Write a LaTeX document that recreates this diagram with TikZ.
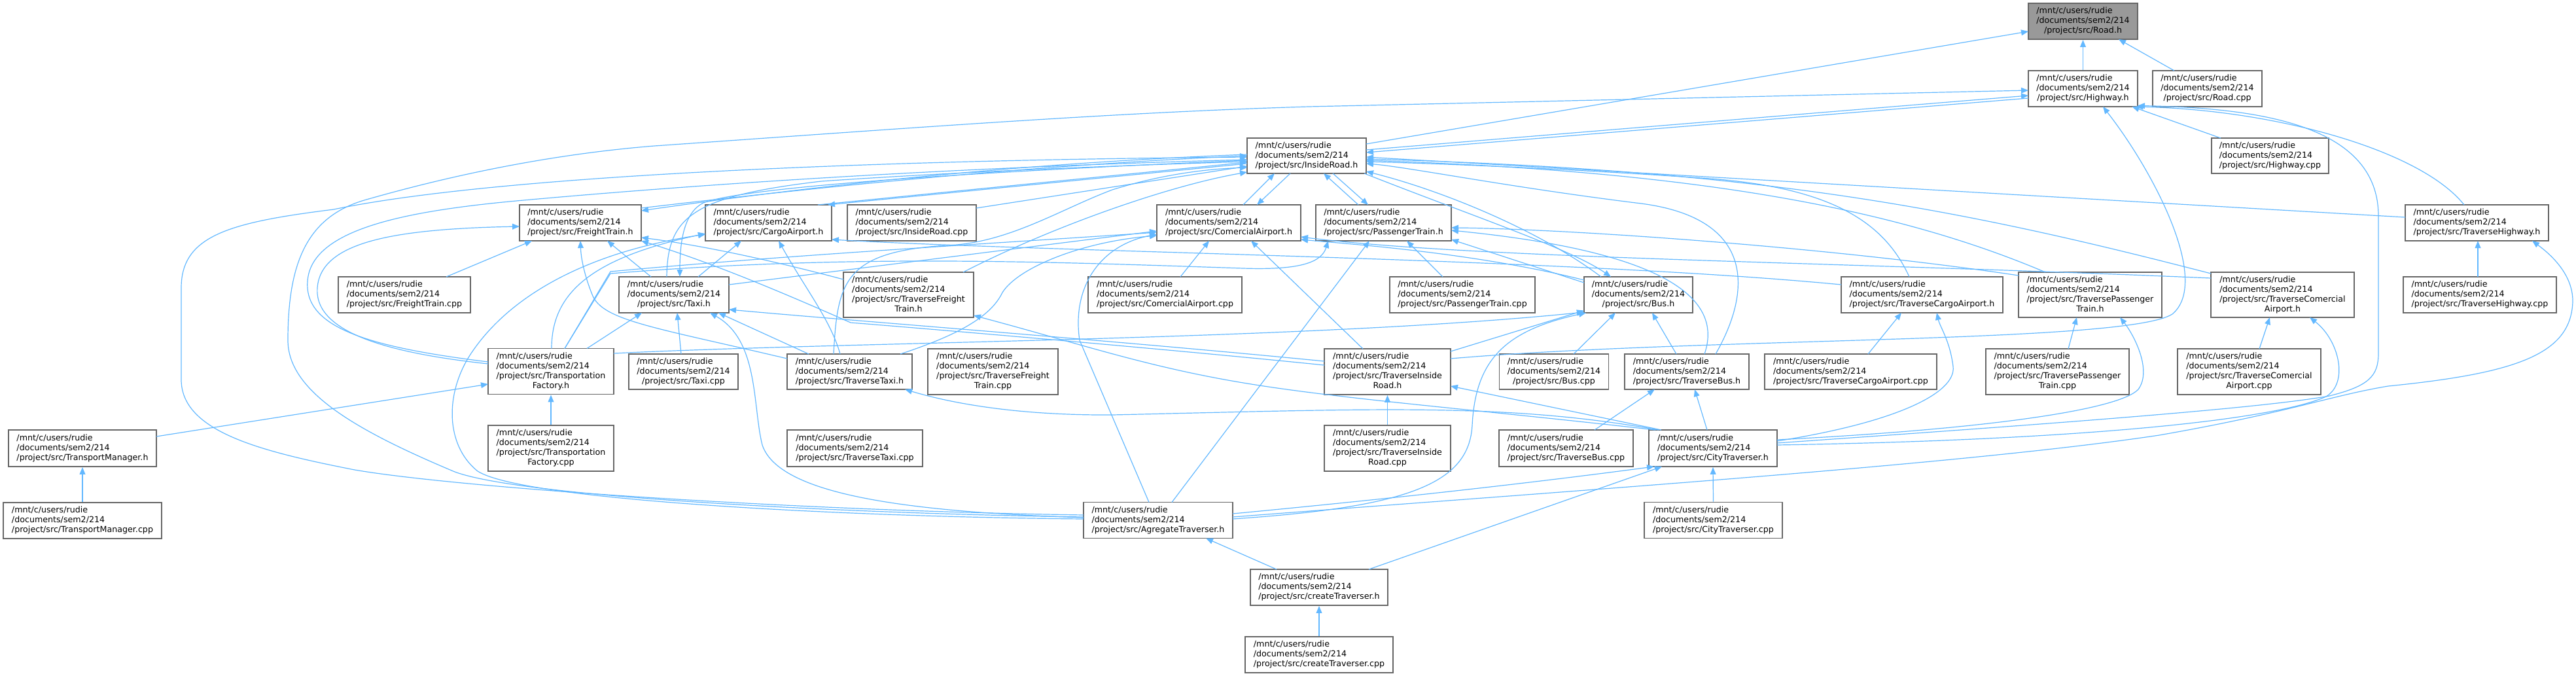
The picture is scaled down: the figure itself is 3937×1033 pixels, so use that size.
\documentclass[tikz,border=0pt]{standalone}
\usepackage{fontspec}
\setmainfont{DejaVu Sans}
\usetikzlibrary{arrows.meta,calc}
\definecolor{edgec}{HTML}{63B8FF}
\definecolor{boxc}{HTML}{666666}
\definecolor{rootc}{HTML}{999999}
\newcommand{\dxthree}[1]{\begin{tabular}{@{}l@{}}/mnt/c/users/rudie\\/documents/sem2/214\\\multicolumn{1}{@{}c@{}}{#1}\end{tabular}}
\newcommand{\dxfour}[2]{\begin{tabular}{@{}l@{}}/mnt/c/users/rudie\\/documents/sem2/214\\#1\\\multicolumn{1}{@{}c@{}}{#2}\end{tabular}}
\tikzset{
  fbox/.style={draw=boxc, line width=0.9pt, fill=white, rectangle, inner sep=0pt, font=\fontsize{6.33pt}{7.5pt}\selectfont},
  dep/.style={draw=edgec, line width=0.6pt, -{Triangle[length=5.5pt,width=4.4pt]}},
}
\begin{document}
\begin{tikzpicture}[x=0.5pt,y=-0.5pt]
\useasboundingbox (0,0) rectangle (3937,1033);
% ---------- nodes ----------
\node[fbox, fill=rootc, minimum width=83.5pt, minimum height=27.5pt] (road) at (3183.5,32.5) {\dxthree{/project/src/Road.h}};
\node[fbox, minimum width=83.5pt, minimum height=27.5pt] (highway) at (3183.5,135.5) {\dxthree{/project/src/Highway.h}};
\node[fbox, minimum width=83.5pt, minimum height=27.5pt] (roadcpp) at (3373.5,135.5) {\dxthree{/project/src/Road.cpp}};
\node[fbox, minimum width=89.5pt, minimum height=27pt] (highwaycpp) at (3469.5,238) {\dxthree{/project/src/Highway.cpp}};
\node[fbox, minimum width=91pt, minimum height=27pt] (insideroad) at (1997,238) {\dxthree{/project/src/InsideRoad.h}};
\node[fbox, minimum width=93pt, minimum height=27.5pt] (freight) at (887,340.5) {\dxthree{/project/src/FreightTrain.h}};
\node[fbox, minimum width=96.5pt, minimum height=27.5pt] (cargo) at (1174.5,340.5) {\dxthree{/project/src/CargoAirport.h}};
\node[fbox, minimum width=98.5pt, minimum height=27.5pt] (insideroadcpp) at (1393.5,340.5) {\dxthree{/project/src/InsideRoad.cpp}};
\node[fbox, minimum width=110pt, minimum height=27.5pt] (comercial) at (1878,340.5) {\dxthree{/project/src/ComercialAirport.h}};
\node[fbox, minimum width=103.5pt, minimum height=27.5pt] (passenger) at (2114.5,340.5) {\dxthree{/project/src/PassengerTrain.h}};
\node[fbox, minimum width=109.5pt, minimum height=27.5pt] (travhighway) at (3785.5,340.5) {\dxthree{/project/src/TraverseHighway.h}};
\node[fbox, minimum width=101pt, minimum height=27.5pt] (freightcpp) at (618,450.5) {\dxthree{/project/src/FreightTrain.cpp}};
\node[fbox, minimum width=84pt, minimum height=27.5pt] (taxi) at (1030,450.5) {\dxthree{/project/src/Taxi.h}};
\node[fbox, minimum width=99.5pt, minimum height=34.5pt] (travfreight) at (1388.5,450.5) {\dxfour{/project/src/TraverseFreight}{Train.h}};
\node[fbox, minimum width=117.5pt, minimum height=27.5pt] (comercialcpp) at (1780.5,450.5) {\dxthree{/project/src/ComercialAirport.cpp}};
\node[fbox, minimum width=111pt, minimum height=27.5pt] (passengercpp) at (2235,450.5) {\dxthree{/project/src/PassengerTrain.cpp}};
\node[fbox, minimum width=83pt, minimum height=27.5pt] (bus) at (2504,450.5) {\dxthree{/project/src/Bus.h}};
\node[fbox, minimum width=123.5pt, minimum height=27.5pt] (travcargo) at (2937.5,450.5) {\dxthree{/project/src/TraverseCargoAirport.h}};
\node[fbox, minimum width=109.5pt, minimum height=34.5pt] (travpassenger) at (3194.5,450.5) {\dxfour{/project/src/TraversePassenger}{Train.h}};
\node[fbox, minimum width=109.5pt, minimum height=34.5pt] (travcomercial) at (3488.5,450.5) {\dxfour{/project/src/TraverseComercial}{Airport.h}};
\node[fbox, minimum width=117pt, minimum height=27.5pt] (travhighwaycpp) at (3790,450.5) {\dxthree{/project/src/TraverseHighway.cpp}};
\node[fbox, minimum width=96pt, minimum height=35pt] (transfactory) at (842,567.5) {\dxfour{/project/src/Transportation}{Factory.h}};
\node[fbox, minimum width=83.5pt, minimum height=27pt] (taxicpp) at (1044.5,568) {\dxthree{/project/src/Taxi.cpp}};
\node[fbox, minimum width=95.5pt, minimum height=27pt] (travtaxi) at (1298.5,568) {\dxthree{/project/src/TraverseTaxi.h}};
\node[fbox, minimum width=99.5pt, minimum height=35pt] (travfreightcpp) at (1517.5,568) {\dxfour{/project/src/TraverseFreight}{Train.cpp}};
\node[fbox, minimum width=96.5pt, minimum height=35pt] (travinside) at (2120.5,568) {\dxfour{/project/src/TraverseInside}{Road.h}};
\node[fbox, minimum width=83.5pt, minimum height=27pt] (buscpp) at (2375,568) {\dxthree{/project/src/Bus.cpp}};
\node[fbox, minimum width=95pt, minimum height=27pt] (travbus) at (2578,568) {\dxthree{/project/src/TraverseBus.h}};
\node[fbox, minimum width=131.5pt, minimum height=27pt] (travcargocpp) at (2828.5,568) {\dxthree{/project/src/TraverseCargoAirport.cpp}};
\node[fbox, minimum width=109.5pt, minimum height=35pt] (travpassengercpp) at (3144.5,568) {\dxfour{/project/src/TraversePassenger}{Train.cpp}};
\node[fbox, minimum width=109.5pt, minimum height=35pt] (travcomercialcpp) at (3437.5,568) {\dxfour{/project/src/TraverseComercial}{Airport.cpp}};
\node[fbox, minimum width=113pt, minimum height=28pt] (transmanager) at (126,685) {\dxthree{/project/src/TransportManager.h}};
\node[fbox, minimum width=96pt, minimum height=35pt] (transfactorycpp) at (842,685) {\dxfour{/project/src/Transportation}{Factory.cpp}};
\node[fbox, minimum width=103.5pt, minimum height=28pt] (travtaxicpp) at (1306.5,685) {\dxthree{/project/src/TraverseTaxi.cpp}};
\node[fbox, minimum width=96.5pt, minimum height=35pt] (travinsidecpp) at (2120.5,685) {\dxfour{/project/src/TraverseInside}{Road.cpp}};
\node[fbox, minimum width=102.5pt, minimum height=28pt] (travbuscpp) at (2393.5,685) {\dxthree{/project/src/TraverseBus.cpp}};
\node[fbox, minimum width=98pt, minimum height=28pt] (citytrav) at (2618,685) {\dxthree{/project/src/CityTraverser.h}};
\node[fbox, minimum width=121pt, minimum height=27.5pt] (transmanagercpp) at (126,795.5) {\dxthree{/project/src/TransportManager.cpp}};
\node[fbox, minimum width=114pt, minimum height=27.5pt] (agregate) at (1770,795) {\dxthree{/project/src/AgregateTraverser.h}};
\node[fbox, minimum width=105.5pt, minimum height=27.5pt] (citytravcpp) at (2618.5,795) {\dxthree{/project/src/CityTraverser.cpp}};
\node[fbox, minimum width=105pt, minimum height=27.5pt] (createtrav) at (2016,897.5) {\dxthree{/project/src/createTraverser.h}};
\node[fbox, minimum width=113pt, minimum height=27.5pt] (createtravcpp) at (2016,1000.5) {\dxthree{/project/src/createTraverser.cpp}};
% ---------- edges ----------
\draw[dep] (highway.north) -- (road.south);
\draw[dep] ($(roadcpp)+(-50.5,-27.5)$) -- ($(road)+(54.5,27.5)$);
\draw[dep] ($(insideroad)+(91,-18)$) -- ($(road)+(-83.5,15.5)$);
\draw[dep] ($(highwaycpp)+(-75.5,-27)$) -- ($(highway)+(75,27.5)$);
\draw[dep] ($(insideroad)+(91,-9)$) -- ($(highway)+(-83.5,10.5)$);
\draw[dep] ($(highway)+(-83.5,14.5)$) -- ($(insideroad)+(91,-5)$);
\draw[dep] ($(travhighway)+(-19.5,-27.5)$) .. controls (3700,230) and (3480,168) .. ($(highway)+(81,27.5)$);
\draw[dep] ($(citytrav)+(98,-8)$) .. controls (3100,650) and (3450,625) .. (3560,605) .. controls (3620,590) and (3635,575) .. (3635,540) -- (3635,330) .. controls (3635,190) and (3450,165) .. ($(highway)+(83.5,26)$);
\draw[dep] ($(travinside)+(96.5,-20)$) .. controls (2600,515) and (3250,525) .. (3320,480) .. controls (3380,430) and (3290,260) .. ($(highway)+(30.5,27.5)$);
\draw[dep] ($(agregate)+(-114,-5)$) .. controls (1300,785) and (800,760) .. (695,721) .. controls (550,660) and (440,600) .. (440,520) .. controls (440,400) and (470,330) .. (560,305) .. controls (700,265) and (850,235) .. (1000,223) .. controls (1400,195) and (1700,172) .. (2000,163) -- ($(highway)+(-83.5,2.5)$);
\draw[dep] ($(agregate)+(-114,-8)$) .. controls (1200,780) and (700,745) .. (542,718) .. controls (400,690) and (277,660) .. (277,580) -- (277,440) .. controls (277,360) and (350,340) .. (510,320) .. controls (750,270) and (1300,245) .. ($(insideroad)+(-91,2)$);
\draw[dep] ($(agregate)+(-114,-2)$) .. controls (1300,790) and (800,765) .. (730,720) .. controls (680,680) and (680,600) .. (720,540) .. controls (780,450) and (900,385) .. ($(cargo)+(-96.5,17.5)$);
\draw[dep] ($(travtaxi)+(-95.5,-20)$) .. controls (1000,500) and (920,490) .. (905,450) .. controls (893,420) and (888,395) .. ($(freight)+(0,27.5)$);
\draw[dep] ($(freightcpp)+(64,-27.5)$) -- ($(freight)+(-74,27.5)$);
\draw[dep] ($(taxi)+(-35,-27.5)$) -- ($(freight)+(41,27.5)$);
\draw[dep] ($(travfreight)+(-99.5,-23.5)$) .. controls (1150,390) and (1050,372) .. ($(freight)+(93,22.5)$);
\draw[dep] ($(travinside)+(-96.5,-10)$) .. controls (1800,535) and (1450,505) .. (1300,493) .. controls (1230,462) and (1100,405) .. ($(freight)+(93,27.5)$);
\draw[dep] ($(transfactory)+(-96,-11.5)$) .. controls (600,540) and (480,510) .. (485,440) .. controls (490,370) and (600,350) .. ($(freight)+(-93,5.5)$);
\draw[dep] ($(transfactory)+(-96,-14.5)$) .. controls (560,530) and (465,500) .. (470,430) .. controls (475,350) and (620,322) .. (800,306) .. controls (1200,270) and (1600,252) .. ($(insideroad)+(-91,6)$);
\draw[dep] ($(transfactory)+(1,-35)$) .. controls (843,450) and (900,395) .. ($(cargo)+(-96.5,16.5)$);
\draw[dep] ($(transfactory)+(55,-35)$) -- ($(taxi)+(-49,27.5)$);
\draw[dep] ($(transfactory)+(21,-35)$) -- (933,415) .. controls (1200,390) and (1550,370) .. ($(comercial)+(-110,14.5)$);
\draw[dep] ($(transfactory)+(21,-35)$) -- (933,418) .. controls (1300,388) and (1600,400) .. (1900,410) .. controls (1990,413) and (2020,400) .. ($(passenger)+(-84.5,27.5)$);
\draw[dep] ($(transfactory)+(96,-27.5)$) .. controls (1300,522) and (2000,520) .. ($(bus)+(-83,26.5)$);
\draw[dep] ($(transmanager)+(113,-18)$) -- ($(transfactory)+(-96,19.5)$);
\draw[dep] (transmanagercpp.north) -- (transmanager.south);
\draw[dep] (transfactorycpp.north) -- (transfactory.south);
\draw[dep] ($(taxicpp)+(-3.5,-27)$) -- ($(taxi)+(5,27.5)$);
\draw[dep] ($(travtaxi)+(-62.5,-27)$) -- ($(taxi)+(68,27.5)$);
\draw[dep] ($(agregate)+(-114,-4)$) .. controls (1380,782) and (1190,755) .. (1165,680) .. controls (1150,620) and (1160,520) .. ($(taxi)+(55,27.5)$);
\draw[dep] ($(taxi)+(-11,-27.5)$) .. controls (1020,330) and (1060,300) .. (1255,277) .. controls (1500,260) and (1800,250) .. ($(insideroad)+(-91,9)$);
\draw[dep] ($(insideroad)+(-91,7)$) .. controls (1500,262) and (1140,285) .. (1075,310) .. controls (1045,325) and (1039,370) .. ($(taxi)+(9,-27.5)$);
\draw[dep] ($(taxi)+(37,-27.5)$) -- ($(cargo)+(-41.5,27.5)$);
\draw[dep] ($(taxi)+(84,-15.5)$) -- ($(comercial)+(-110,12.5)$);
\draw[dep] ($(travinside)+(-96.5,-16)$) .. controls (1700,520) and (1300,490) .. ($(taxi)+(84,22.5)$);
\draw[dep] ($(cargo)+(75.5,-27.5)$) -- ($(insideroad)+(-91,10)$);
\draw[dep] ($(insideroad)+(-91,12)$) -- ($(cargo)+(90.5,-27.5)$);
\draw[dep] ($(insideroadcpp)+(98.5,-22.5)$) -- ($(insideroad)+(-91,16)$);
\draw[dep] ($(freight)+(93,-22.5)$) .. controls (1300,280) and (1600,252) .. ($(insideroad)+(-91,0)$);
\draw[dep] ($(insideroad)+(-91,-2)$) .. controls (1600,248) and (1300,276) .. ($(freight)+(93,-18.5)$);
\draw[dep] ($(comercial)+(22,-27.5)$) -- ($(insideroad)+(-49,27)$);
\draw[dep] ($(insideroad)+(-25,27)$) -- ($(comercial)+(43,-27.5)$);
\draw[dep] ($(passenger)+(-38.5,-27.5)$) -- ($(insideroad)+(26,27)$);
\draw[dep] ($(insideroad)+(40,27)$) -- ($(passenger)+(-23.5,-27.5)$);
\draw[dep] ($(bus)+(-57,-27.5)$) .. controls (2350,350) and (2200,290) .. ($(insideroad)+(91,24)$);
\draw[dep] ($(insideroad)+(88,27)$) .. controls (2250,330) and (2400,380) .. ($(bus)+(-42,-27.5)$);
\draw[dep] ($(travfreight)+(83.5,-34.5)$) .. controls (1600,350) and (1780,285) .. ($(insideroad)+(-91,25)$);
\draw[dep] ($(travtaxi)+(-24.5,-27)$) .. controls (1280,430) and (1290,385) .. (1446,375) .. controls (1540,372) and (1620,320) .. (1700,290) .. controls (1780,265) and (1850,258) .. ($(insideroad)+(-91,18)$);
\draw[dep] ($(travcargo)+(-19.5,-27.5)$) .. controls (2880,340) and (2800,285) .. (2600,272) .. controls (2400,258) and (2200,250) .. ($(insideroad)+(91,9)$);
\draw[dep] ($(travhighway)+(-109.5,-8.5)$) -- ($(insideroad)+(91,2)$);
\draw[dep] ($(travcomercial)+(-109.5,-32.5)$) .. controls (3000,320) and (2700,260) .. ($(insideroad)+(91,5)$);
\draw[dep] ($(travpassenger)+(-68.5,-34.5)$) .. controls (2900,320) and (2600,262) .. ($(insideroad)+(91,7)$);
\draw[dep] ($(travbus)+(44,-27)$) .. controls (2680,440) and (2680,330) .. (2500,310) .. controls (2300,285) and (2150,255) .. ($(insideroad)+(91,12)$);
\draw[dep] ($(travbus)+(27,-27)$) .. controls (2640,440) and (2500,380) .. ($(passenger)+(103.5,11.5)$);
\draw[dep] ($(bus)+(-83,-18.5)$) -- ($(passenger)+(103.5,25.5)$);
\draw[dep] ($(bus)+(-83,-22.5)$) .. controls (2250,385) and (2050,372) .. ($(comercial)+(110,25.5)$);
\draw[dep] ($(passengercpp)+(-30,-27.5)$) -- ($(passenger)+(35.5,27.5)$);
\draw[dep] ($(comercialcpp)+(23.5,-27.5)$) -- ($(comercial)+(-30,27.5)$);
\draw[dep] ($(travpassenger)+(-109.5,-29.5)$) .. controls (2800,378) and (2400,350) .. ($(passenger)+(103.5,7.5)$);
\draw[dep] ($(travcomercial)+(-109.5,-25.5)$) .. controls (2800,400) and (2250,395) .. ($(comercial)+(110,21.5)$);
\draw[dep] ($(travcargo)+(-123.5,-15.5)$) .. controls (2400,395) and (1600,385) .. ($(cargo)+(96.5,25.5)$);
\draw[dep] ($(travcargocpp)+(26.5,-27)$) -- ($(travcargo)+(-31.5,27.5)$);
\draw[dep] ($(citytrav)+(98,-11)$) .. controls (2900,645) and (2990,600) .. (2985,560) .. controls (2980,520) and (2965,500) .. ($(travcargo)+(22.5,27.5)$);
\draw[dep] ($(citytrav)+(98,-13)$) .. controls (3050,655) and (3240,625) .. (3268,595) .. controls (3290,565) and (3260,510) .. ($(travpassenger)+(45.5,34.5)$);
\draw[dep] ($(citytrav)+(98,-5)$) .. controls (3200,672) and (3480,640) .. (3555,606) .. controls (3590,585) and (3575,520) .. ($(travcomercial)+(41.5,34.5)$);
\draw[dep] ($(agregate)+(114,-5)$) .. controls (2400,750) and (3000,710) .. (3300,665) .. controls (3500,630) and (3560,605) .. (3650,590) .. controls (3850,570) and (3930,540) .. (3932,460) .. controls (3932,420) and (3900,390) .. ($(travhighway)+(84.5,27.5)$);
\draw[dep] ($(travhighwaycpp)+(-3,-27.5)$) -- ($(travhighway)+(1.5,27.5)$);
\draw[dep] ($(travpassengercpp)+(16.5,-35)$) -- ($(travpassenger)+(-20.5,34.5)$);
\draw[dep] ($(travcomercialcpp)+(15.5,-35)$) -- ($(travcomercial)+(-19.5,34.5)$);
\draw[dep] ($(citytrav)+(-9,-28)$) -- ($(travbus)+(12,27)$);
\draw[dep] ($(travbuscpp)+(43.5,-28)$) -- ($(travbus)+(-49,27)$);
\draw[dep] ($(travbus)+(-16,-27)$) -- ($(bus)+(21,27.5)$);
\draw[dep] ($(buscpp)+(30,-27)$) -- ($(bus)+(-35,27.5)$);
\draw[dep] ($(citytrav)+(-79,-28)$) -- ($(travinside)+(96.5,22)$);
\draw[dep] ($(citytrav)+(-83,-28)$) .. controls (2300,615) and (2100,625) .. (1700,634) .. controls (1550,635) and (1450,615) .. ($(travtaxi)+(84.5,27)$);
\draw[dep] ($(citytrav)+(-88,-28)$) .. controls (2250,625) and (2050,610) .. (1900,585) .. controls (1750,560) and (1650,525) .. ($(travfreight)+(99.5,31.5)$);
\draw[dep] (travinsidecpp.north) -- (travinside.south);
\draw[dep] ($(createtrav)+(-65,-27.5)$) -- ($(agregate)+(73,27.5)$);
\draw[dep] ($(createtrav)+(76,-27.5)$) -- ($(citytrav)+(-78,28)$);
\draw[dep] (createtravcpp.north) -- (createtrav.south);
\draw[dep] (citytravcpp.north) -- (citytrav.south);
\draw[dep] ($(agregate)+(114,-10)$) .. controls (2200,755) and (2400,730) .. ($(citytrav)+(-90,28)$);
\draw[dep] ($(agregate)+(114,-2)$) .. controls (2150,775) and (2245,740) .. (2250,650) .. controls (2255,550) and (2300,505) .. ($(bus)+(-80,27.5)$);
\draw[dep] ($(agregate)+(-14,-27.5)$) -- (1650,520) .. controls (1638,440) and (1680,375) .. ($(comercial)+(-110,17.5)$);
\draw[dep] ($(agregate)+(21,-27.5)$) -- ($(passenger)+(-21.5,27.5)$);
\draw[dep] ($(travinside)+(-37.5,-35)$) -- ($(comercial)+(34,27.5)$);
\draw[dep] ($(travinside)+(96.5,-31)$) -- ($(bus)+(-83,24)$);
\draw[dep] ($(travtaxi)+(-14.5,-27)$) .. controls (1270,490) and (1230,440) .. ($(cargo)+(15.5,27.5)$);
\draw[dep] ($(travtaxi)+(77.5,-27)$) .. controls (1470,510) and (1515,482) .. (1532,447) .. controls (1555,410) and (1650,370) .. ($(comercial)+(-110,19.5)$);
\end{tikzpicture}
\end{document}
